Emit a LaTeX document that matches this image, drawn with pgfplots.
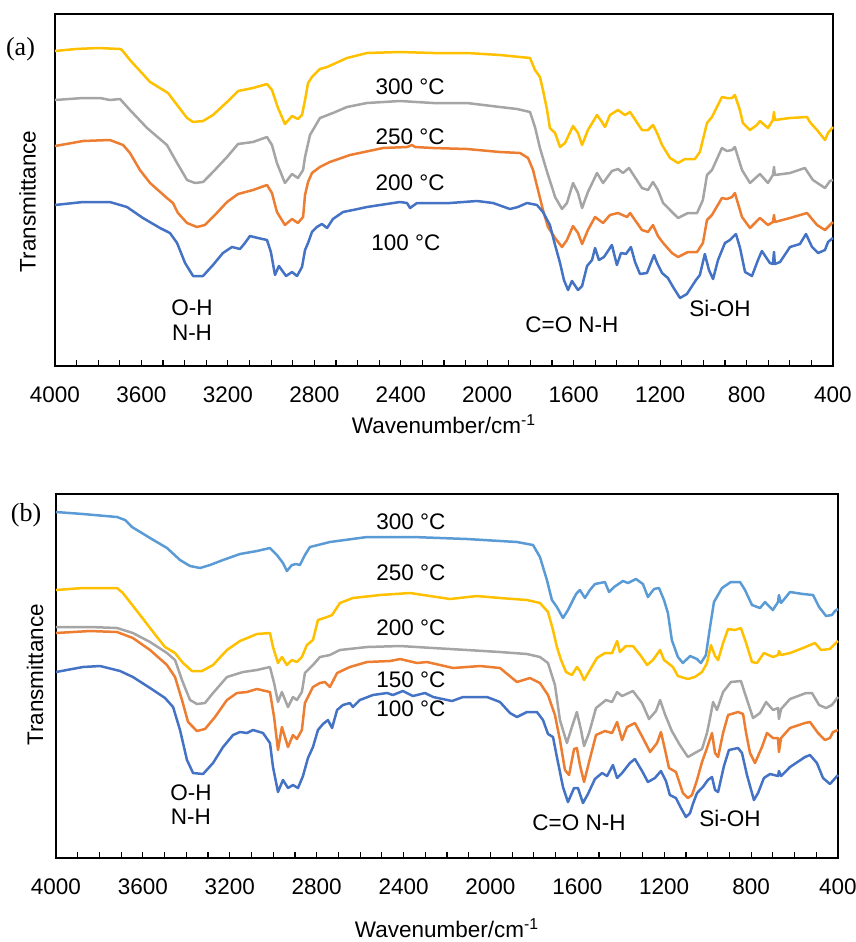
\documentclass[border=0pt]{standalone}
\usepackage{fontspec}
\setmainfont{Liberation Sans}
\newfontfamily\timesf{Liberation Serif}
\usepackage{pgfplots}
\pgfplotsset{compat=1.18}
\newcommand{\fs}{\fontsize{11.25}{13}\selectfont}

\definecolor{cYel}{HTML}{FFC000}
\definecolor{cGry}{HTML}{A5A5A5}
\definecolor{cOrg}{HTML}{ED7D31}
\definecolor{cBlu}{HTML}{4472C4}
\definecolor{cLbl}{HTML}{5B9BD5}

\pgfplotsset{ftir/.style={scale only axis, anchor=north west,
  x dir=reverse, y dir=reverse, xmin=400, xmax=4000,
  xtick={400,800,...,4000}, minor x tick num=3, ytick=\empty,
  tick align=inside, xtick pos=lower,
  major tick length=3pt, minor tick length=3pt,
  axis line style={line width=0.75pt},
  tick style={black, line width=0.6pt},
  tick label style={font=\fs}, label style={font=\fs},
  /pgf/number format/assume math mode=true,
  /pgf/number format/1000 sep={},
  xticklabel style={yshift=-7pt},
  xlabel={Wavenumber/cm\textsuperscript{-1}},
  every axis plot/.append style={line width=1.25pt, line join=round},
  clip=false}}

\begin{document}
\begin{tikzpicture}
\path[use as bounding box] (0pt,0pt) rectangle (428pt,-471pt);

% ---- panel (a)
\begin{axis}[ftir, at={(27.5pt,-7pt)}, width=389pt, height=176pt,
  ymin=14, ymax=366,
  xlabel style={at={(axis description cs:0.5,0)}, anchor=center, yshift=-29pt}]
\addplot[cYel] coordinates {(4000,51) (3903,49) (3801,48) (3699,49) (3690,50) (3653,60) (3560,82) (3477,93) (3435,105) (3389,118) (3361,122) (3315,121) (3269,115) (3204,102) (3153,91) (3084,88) (3019,84) (2996,90) (2968,108) (2936,124) (2903,116) (2876,119) (2857,115) (2843,100) (2829,83) (2811,77) (2774,69) (2741,67) (2649,58) (2556,53) (2404,52) (2251,53) (2094,53) (1941,55) (1848,57) (1802,58) (1779,70) (1756,77) (1742,90) (1723,110) (1710,128) (1686,133) (1663,147) (1640,143) (1603,126) (1580,133) (1561,145) (1534,130) (1492,115) (1469,122) (1455,127) (1432,115) (1395,110) (1363,115) (1339,112) (1284,130) (1256,130) (1233,125) (1214,133) (1191,145) (1154,158) (1117,163) (1085,159) (1039,159) (1016,152) (983,123) (960,117) (914,97) (891,98) (867,98) (854,95) (831,110) (817,123) (784,130) (752,125) (738,121) (701,128) (678,120) (673,112) (669,120) (599,118) (520,117) (507,122) (474,130) (437,140) (423,133) (400,127)};
\addplot[cGry] coordinates {(4000,100) (3870,98) (3792,98) (3746,100) (3699,99) (3653,110) (3574,128) (3482,145) (3435,163) (3389,180) (3352,183) (3315,182) (3269,172) (3204,157) (3153,144) (3084,142) (3019,137) (2996,145) (2973,163) (2936,183) (2903,174) (2876,178) (2852,170) (2843,157) (2820,135) (2774,118) (2714,113) (2649,107) (2556,103) (2404,101) (2251,103) (2094,103) (1941,107) (1862,109) (1802,112) (1779,127) (1756,148) (1723,172) (1696,190) (1686,197) (1654,209) (1631,203) (1603,183) (1580,193) (1561,208) (1534,192) (1492,173) (1464,183) (1423,171) (1395,169) (1372,173) (1344,168) (1284,188) (1256,190) (1233,182) (1210,190) (1186,203) (1145,212) (1117,218) (1071,213) (1029,213) (1002,200) (983,175) (960,170) (914,148) (891,151) (867,150) (854,147) (821,170) (784,183) (738,174) (701,183) (678,175) (673,167) (669,175) (599,173) (530,168) (493,180) (437,188) (414,181) (400,180)};
\addplot[cOrg] coordinates {(4000,146) (3870,141) (3746,140) (3685,145) (3653,153) (3607,170) (3560,183) (3482,198) (3454,203) (3431,213) (3389,223) (3343,227) (3306,225) (3260,215) (3204,202) (3153,194) (3084,190) (3019,185) (2996,193) (2973,212) (2936,225) (2903,219) (2876,223) (2852,217) (2843,195) (2829,182) (2811,173) (2774,167) (2728,162) (2635,155) (2482,148) (2371,147) (2348,145) (2334,147) (2251,148) (2094,149) (1941,152) (1848,153) (1811,158) (1788,170) (1765,190) (1742,210) (1719,227) (1686,238) (1654,247) (1631,240) (1603,226) (1580,233) (1561,244) (1534,230) (1501,217) (1464,223) (1432,215) (1395,213) (1353,217) (1339,213) (1284,230) (1256,232) (1233,225) (1210,236) (1186,243) (1145,253) (1117,257) (1071,252) (1029,252) (1002,243) (983,220) (960,215) (914,198) (891,199) (867,197) (854,193) (821,217) (784,228) (738,218) (701,225) (678,222) (673,215) (669,222) (599,218) (520,213) (474,225) (437,230) (400,222)};
\addplot[cBlu] coordinates {(4000,205) (3870,202) (3746,202) (3667,207) (3593,218) (3514,228) (3468,233) (3435,243) (3398,263) (3361,276) (3315,276) (3269,265) (3223,253) (3181,247) (3144,249) (3121,243) (3098,236) (3061,238) (3019,240) (3001,252) (2982,275) (2964,266) (2931,276) (2903,272) (2880,276) (2857,267) (2843,250) (2829,243) (2811,232) (2788,227) (2765,224) (2741,228) (2714,219) (2667,212) (2621,210) (2556,207) (2496,205) (2404,202) (2371,203) (2357,208) (2325,203) (2251,203) (2172,203) (2047,201) (1973,203) (1895,209) (1858,207) (1816,203) (1770,205) (1742,212) (1710,225) (1686,245) (1663,263) (1645,280) (1626,290) (1608,281) (1580,290) (1561,286) (1538,266) (1515,260) (1501,248) (1483,260) (1460,257) (1423,245) (1400,265) (1381,253) (1358,254) (1335,247) (1316,262) (1293,274) (1261,273) (1228,255) (1214,263) (1191,273) (1164,278) (1140,287) (1108,298) (1076,294) (1034,280) (1016,275) (993,254) (974,270) (955,279) (932,260) (900,243) (877,240) (849,234) (830,248) (807,272) (775,276) (747,260) (729,251) (692,263) (678,264) (673,252) (669,264) (645,262) (599,247) (553,244) (525,234) (497,247) (469,253) (437,250) (423,242) (400,238)};
\node[font=\fs] at (axis cs:2357,87) {300 °C};
\node[font=\fs] at (axis cs:2357,137) {250 °C};
\node[font=\fs] at (axis cs:2357,183) {200 °C};
\node[font=\fs] at (axis cs:2376,243) {100 °C};
\node[font=\fs] at (axis cs:3366,308) {O-H};
\node[font=\fs] at (axis cs:3366,333) {N-H};
\node[font=\fs] at (axis cs:1608,325) {C=O N-H};
\node[font=\fs] at (axis cs:923,308) {Si-OH};
\end{axis}
\node[font=\timesf\fontsize{13}{15}\selectfont] at (10.25pt,-24.5pt) {(a)};
\node[font=\fs, rotate=90] at (13.75pt,-100.75pt) {Transmittance};

% ---- panel (b)
\begin{axis}[ftir, at={(28pt,-247pt)}, width=391pt, height=182pt,
  ymin=494, ymax=858,
  xlabel style={at={(axis description cs:0.5,0)}, anchor=center, yshift=-35pt}]
\addplot[cLbl] coordinates {(4000,512) (3876,514) (3719,517) (3682,520) (3650,527) (3567,538) (3489,548) (3429,560) (3383,566) (3337,568) (3291,565) (3231,560) (3153,554) (3075,551) (3015,548) (2983,555) (2955,563) (2937,571) (2914,565) (2895,564) (2877,565) (2854,555) (2831,547) (2739,542) (2568,537) (2357,537) (2108,539) (1878,542) (1804,545) (1772,557) (1740,580) (1717,600) (1694,607) (1666,618) (1643,610) (1606,594) (1588,590) (1565,598) (1542,590) (1519,584) (1473,582) (1454,592) (1431,587) (1390,581) (1367,583) (1330,579) (1298,584) (1275,597) (1247,589) (1224,588) (1201,600) (1183,613) (1165,640) (1137,657) (1114,663) (1081,656) (1049,659) (1031,663) (1008,655) (989,627) (971,602) (934,588) (893,582) (851,582) (828,590) (796,605) (759,608) (736,602) (700,610) (676,602) (672,595) (662,603) (621,592) (561,594) (515,595) (487,607) (455,616) (428,615) (414,611) (400,609)};
\addplot[cYel] coordinates {(4000,590) (3876,588) (3719,588) (3692,593) (3613,615) (3535,637) (3498,647) (3452,653) (3415,663) (3374,671) (3328,671) (3277,665) (3213,650) (3153,641) (3075,634) (3015,633) (3001,647) (2978,663) (2960,657) (2937,665) (2914,660) (2891,662) (2868,657) (2845,645) (2817,640) (2794,620) (2752,617) (2729,615) (2693,603) (2633,598) (2508,595) (2370,593) (2186,599) (2062,596) (1956,598) (1832,600) (1772,603) (1735,612) (1712,630) (1694,647) (1675,660) (1652,672) (1625,675) (1602,667) (1588,671) (1569,680) (1542,670) (1510,658) (1473,653) (1440,653) (1417,641) (1404,652) (1376,646) (1344,646) (1307,656) (1279,665) (1252,660) (1219,650) (1201,660) (1183,663) (1160,667) (1137,676) (1091,679) (1059,677) (1026,672) (1003,663) (985,645) (966,656) (952,660) (929,643) (906,629) (874,630) (847,628) (823,643) (796,662) (773,663) (741,653) (699,657) (676,655) (672,651) (662,655) (621,653) (561,648) (506,643) (478,650) (437,649) (405,642) (400,641)};
\addplot[cGry] coordinates {(4000,627) (3843,627) (3719,628) (3646,633) (3567,642) (3489,653) (3452,660) (3420,680) (3383,700) (3351,704) (3314,703) (3277,693) (3213,677) (3139,672) (3075,670) (3015,667) (2996,683) (2978,702) (2960,692) (2932,707) (2909,697) (2891,700) (2868,692) (2854,673) (2817,665) (2785,657) (2739,655) (2693,650) (2568,647) (2416,646) (2264,648) (2108,650) (1956,652) (1832,654) (1772,657) (1735,663) (1703,685) (1680,720) (1648,743) (1625,727) (1602,712) (1583,730) (1569,746) (1546,733) (1514,708) (1468,700) (1440,702) (1417,692) (1394,696) (1344,691) (1302,703) (1270,719) (1238,711) (1219,700) (1197,714) (1165,731) (1128,745) (1091,757) (1059,753) (1026,749) (1003,733) (989,718) (975,702) (957,710) (929,692) (893,682) (847,681) (823,697) (791,718) (759,713) (731,702) (699,710) (676,708) (672,719) (662,709) (621,699) (547,693) (520,693) (487,705) (455,708) (428,705) (400,697)};
\addplot[cOrg] coordinates {(4000,633) (3843,631) (3719,632) (3646,638) (3567,650) (3489,665) (3452,677) (3420,700) (3392,722) (3351,731) (3314,729) (3268,717) (3213,700) (3167,693) (3121,692) (3075,689) (3015,692) (2996,717) (2978,750) (2960,727) (2932,747) (2909,735) (2891,739) (2868,730) (2854,703) (2817,687) (2785,683) (2762,682) (2739,687) (2706,673) (2647,667) (2568,662) (2462,661) (2416,659) (2338,663) (2292,662) (2172,668) (2048,666) (1956,668) (1878,682) (1818,678) (1772,683) (1735,695) (1703,715) (1680,740) (1657,770) (1638,775) (1615,749) (1602,748) (1588,765) (1569,782) (1546,762) (1514,735) (1473,731) (1440,733) (1417,722) (1394,740) (1371,727) (1335,723) (1298,738) (1265,752) (1233,743) (1215,732) (1197,749) (1178,768) (1146,772) (1114,793) (1091,798) (1072,795) (1049,780) (1026,762) (1003,748) (980,733) (966,753) (952,757) (929,733) (906,715) (860,712) (837,714) (823,733) (805,753) (782,763) (750,747) (727,733) (699,738) (676,738) (672,752) (662,738) (621,728) (552,723) (529,722) (492,733) (460,740) (437,738) (423,732) (400,730)};
\addplot[cBlu] coordinates {(4000,672) (3876,667) (3797,666) (3705,671) (3646,677) (3567,688) (3498,698) (3461,707) (3429,730) (3397,760) (3369,773) (3323,774) (3277,763) (3231,747) (3185,735) (3153,732) (3121,733) (3093,730) (3047,733) (3015,743) (3001,767) (2978,792) (2955,780) (2932,788) (2909,785) (2886,788) (2863,776) (2840,758) (2817,747) (2794,730) (2771,724) (2748,720) (2729,728) (2706,710) (2679,705) (2647,703) (2633,707) (2601,700) (2541,695) (2476,693) (2449,695) (2403,691) (2357,696) (2301,693) (2264,697) (2177,701) (2126,697) (2016,697) (1956,702) (1910,713) (1878,717) (1832,712) (1786,712) (1758,720) (1735,734) (1712,737) (1694,757) (1666,787) (1643,802) (1615,788) (1597,788) (1588,794) (1574,803) (1551,794) (1519,779) (1486,773) (1463,776) (1436,765) (1417,778) (1394,773) (1358,763) (1335,759) (1302,771) (1275,782) (1243,778) (1215,771) (1192,781) (1174,795) (1146,798) (1123,808) (1100,817) (1081,813) (1068,804) (1049,793) (1022,787) (999,780) (980,777) (966,790) (952,792) (925,766) (902,750) (860,748) (842,753) (819,775) (787,800) (768,793) (741,778) (713,774) (676,776) (672,771) (662,776) (621,767) (552,757) (529,755) (497,763) (469,778) (437,784) (400,775)};
\node[font=\fs] at (axis cs:2366,522) {300 °C};
\node[font=\fs] at (axis cs:2366,573) {250 °C};
\node[font=\fs] at (axis cs:2366,628) {200 °C};
\node[font=\fs] at (axis cs:2366,680) {150 °C};
\node[font=\fs] at (axis cs:2366,709) {100 °C};
\node[font=\fs] at (axis cs:3379,793) {O-H};
\node[font=\fs] at (axis cs:3379,817) {N-H};
\node[font=\fs] at (axis cs:1592,823) {C=O N-H};
\node[font=\fs] at (axis cs:897,818) {Si-OH};
\end{axis}
\node[font=\timesf\fontsize{13}{15}\selectfont] at (13pt,-257.5pt) {(b)};
\node[font=\fs, rotate=90] at (17.5pt,-337.5pt) {Transmittance};
\end{tikzpicture}
\end{document}
